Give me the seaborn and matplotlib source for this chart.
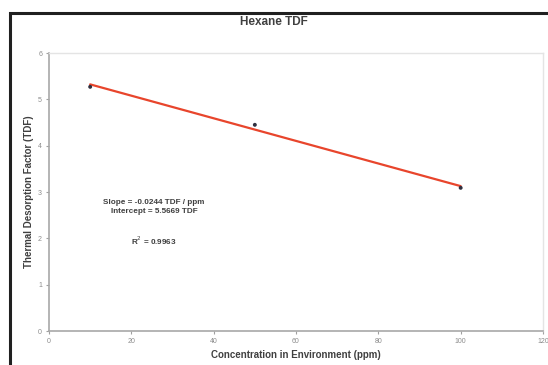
import numpy as np
import pandas as pd
import seaborn as sns
import matplotlib.pyplot as plt
from matplotlib.patches import Rectangle

##### Data
conc = [10, 50, 100]
tdf = [5.27, 4.45, 3.09]

slope = -0.0244
intercept = 5.5669
r2 = 0.9963

x_ticks = [0, 20, 40, 60, 80, 100, 120]
y_ticks = [0, 1, 2, 3, 4, 5, 6]

points = pd.DataFrame({'Concentration': conc, 'TDF': tdf})
fit_x = [min(conc), max(conc)]
trend = pd.DataFrame({'Concentration': fit_x,
                      'TDF': [intercept + slope * v for v in fit_x]})

##### Plot
sns.set_style('white')
plt.rcParams['font.family'] = ['Liberation Sans', 'DejaVu Sans']

fig = plt.figure(figsize=(5.48, 3.65), dpi=100)
ax = fig.add_axes([49 / 548, 1 - 331 / 365, 494 / 548, 278 / 365])

sns.lineplot(x='Concentration', y='TDF', data=trend, color='#e8452c',
             linewidth=1.6, ax=ax)
sns.scatterplot(x='Concentration', y='TDF', data=points, color='#303040',
                s=8, edgecolor='none', zorder=3, ax=ax)

ax.set_xlim(0, 120)
ax.set_ylim(0, 6)
ax.set_xticks(x_ticks)
ax.set_yticks(y_ticks)
ax.tick_params(axis='both', direction='out', length=2, width=0.8,
               colors='#a0a0a0', labelsize=5, pad=3,
               bottom=True, left=True)
for lab in ax.get_xticklabels() + ax.get_yticklabels():
    lab.set_color('#8c8c8c')

for side in ['left', 'bottom']:
    ax.spines[side].set_color('#a8a8a8')
    ax.spines[side].set_linewidth(1.2)
for side in ['top', 'right']:
    ax.spines[side].set_color('#e4e4e4')
    ax.spines[side].set_linewidth(1.0)

ax.set_xlabel('Concentration in Environment (ppm)', fontsize=7,
              fontweight='bold', color='#404040', labelpad=4)
ax.set_ylabel('Thermal Desorption Factor (TDF)', fontsize=7,
              fontweight='bold', color='#404040', labelpad=3)

# trendline annotation
ax.text(25.5, 2.68, 'Slope = %.4f TDF / ppm\nIntercept = %.4f TDF' % (slope, intercept),
        ha='center', va='center', fontsize=5.9, fontweight='bold',
        color='#404040', linespacing=1.35)
ax.text(25.5, 1.95, 'R$^2$ = %.4f' % r2, ha='center', va='center',
        fontsize=5.9, fontweight='bold', color='#404040')

fig.text(0.5, 1 - 22 / 365, 'Hexane TDF', ha='center', va='center',
         fontsize=8.5, fontweight='bold', color='#404040')

# black frame around the chart area
fig.patches.append(Rectangle((9.5 / 548, -0.05), 1.1, 1 - 12.5 / 365 + 0.05,
                             transform=fig.transFigure, fill=False,
                             edgecolor='#202020', linewidth=2.2))

plt.savefig('out.png', dpi=100)
